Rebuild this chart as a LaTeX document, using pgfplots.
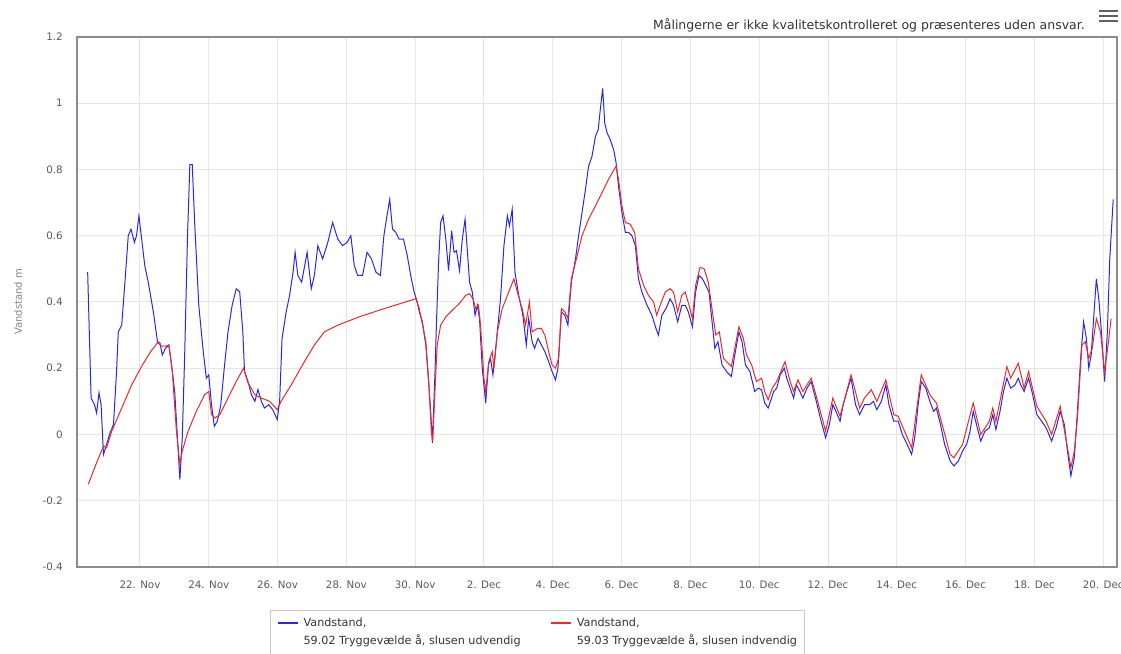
\documentclass[border=0pt]{standalone}
\usepackage{pgfplots}
\pgfplotsset{compat=1.18}
\usepackage{fontspec}
\setmainfont{DejaVu Sans}
\definecolor{blueline}{RGB}{40,40,235}
\definecolor{redline}{RGB}{240,40,40}
\definecolor{gridc}{RGB}{230,230,230}
\definecolor{borderc}{RGB}{140,140,140}
\definecolor{labc}{RGB}{90,90,90}
\definecolor{ylabc}{RGB}{130,130,130}
\definecolor{textc}{RGB}{51,51,51}
\definecolor{legc}{RGB}{200,200,200}
\begin{document}
\begin{tikzpicture}[x=1pt,y=1pt]
\path[use as bounding box] (-77,-86) rectangle (1044,567);
\begin{axis}[
  at={(0,0)}, anchor=south west,
  scale only axis, width=1040pt, height=530pt,
  xmin=20.17, xmax=50.4, ymin=-0.4, ymax=1.2,
  xtick={22,24,26,28,30,32,34,36,38,40,42,44,46,48,50},
  xticklabels={22. Nov,24. Nov,26. Nov,28. Nov,30. Nov,2. Dec,4. Dec,6. Dec,8. Dec,10. Dec,12. Dec,14. Dec,16. Dec,18. Dec,20. Dec},
  ytick={-0.4,-0.2,0,0.2,0.4,0.6,0.8,1,1.2},
  yticklabels={-0.4,-0.2,0,0.2,0.4,0.6,0.8,1,1.2},
  major tick length=0pt,
  grid=major,
  major grid style={gridc, line width=1pt},
  axis line style={borderc, line width=1.8pt},
  tick label style={font=\fontsize{10.3}{12}\selectfont, text=labc},
  xticklabel style={anchor=north, inner sep=0pt, yshift=-14pt},
  yticklabel style={anchor=east, inner sep=0pt, xshift=-14pt},
  ylabel={Vandstand m},
  ylabel style={at={(axis description cs:-0.0567,0.5)}, anchor=center, font=\fontsize{10}{12}\selectfont, text=ylabc},
  legend columns=2,
  legend cell align=left,
  legend style={at={(axis description cs:0.1856,-0.0811)}, anchor=north west,
    draw=legc, line width=0.8pt, font=\fontsize{11.2}{18}\selectfont,
    nodes={inner sep=0pt, text depth=},
    cells={anchor=base west},
    /tikz/every odd column/.append style={column sep=5pt},
    /tikz/every even column/.append style={column sep=30pt},
    inner xsep=7pt, inner ysep=4pt},
]
\addplot[blueline, line width=1pt, legend image code/.code={\path (0pt,0pt); \draw[blueline, line width=1.2pt] (0pt,4pt) -- (20pt,4pt);}] coordinates {
(20.48,0.49) (20.58,0.11) (20.68,0.09) (20.74,0.065) (20.81,0.126) (20.87,0.09) (20.94,-0.06) (21.0,-0.04) (21.13,0.005) (21.23,0.03) (21.32,0.19) (21.37,0.31) (21.47,0.33) (21.57,0.47) (21.66,0.60) (21.74,0.62) (21.84,0.58) (21.9,0.60) (21.97,0.66) (22.05,0.59) (22.14,0.51) (22.24,0.46) (22.39,0.37) (22.51,0.28) (22.58,0.277) (22.65,0.24) (22.74,0.26) (22.84,0.27) (22.92,0.21) (23.01,0.13) (23.09,-0.01) (23.16,-0.136) (23.23,-0.01) (23.3,0.24) (23.38,0.59) (23.45,0.815) (23.52,0.815) (23.59,0.64) (23.71,0.39) (23.84,0.25) (23.93,0.17) (24.0,0.18) (24.08,0.09) (24.16,0.025) (24.25,0.04) (24.35,0.09) (24.45,0.20) (24.56,0.31) (24.68,0.39) (24.8,0.44) (24.9,0.43) (24.99,0.31) (25.04,0.19) (25.14,0.16) (25.24,0.12) (25.34,0.10) (25.43,0.136) (25.53,0.10) (25.62,0.08) (25.74,0.09) (25.86,0.075) (25.99,0.045) (26.06,0.10) (26.13,0.29) (26.25,0.37) (26.35,0.42) (26.45,0.49) (26.51,0.55) (26.59,0.48) (26.7,0.46) (26.86,0.55) (26.98,0.44) (27.07,0.48) (27.17,0.57) (27.31,0.53) (27.46,0.58) (27.6,0.64) (27.75,0.59) (27.89,0.57) (28.02,0.58) (28.13,0.60) (28.23,0.51) (28.33,0.48) (28.47,0.48) (28.6,0.55) (28.73,0.53) (28.86,0.49) (28.99,0.48) (29.09,0.60) (29.18,0.66) (29.26,0.71) (29.34,0.62) (29.44,0.61) (29.53,0.59) (29.66,0.59) (29.77,0.54) (29.87,0.48) (29.97,0.43) (30.06,0.40)
(30.12,0.37) (30.21,0.34) (30.31,0.27) (30.39,0.16) (30.45,0.07) (30.5,-0.025) (30.57,0.17) (30.62,0.34) (30.68,0.52) (30.74,0.64) (30.81,0.66) (30.89,0.59) (30.97,0.495) (31.06,0.615) (31.13,0.55) (31.2,0.555) (31.29,0.495) (31.37,0.59) (31.45,0.65) (31.52,0.55) (31.58,0.46) (31.66,0.43) (31.74,0.36) (31.81,0.39) (31.87,0.35) (31.95,0.20) (32.05,0.095) (32.13,0.21) (32.19,0.23) (32.26,0.18) (32.36,0.28) (32.48,0.41) (32.58,0.57) (32.68,0.66) (32.74,0.63) (32.82,0.68) (32.9,0.49) (33.01,0.42) (33.13,0.36) (33.23,0.27) (33.3,0.35) (33.4,0.28) (33.47,0.26) (33.57,0.29) (33.67,0.27) (33.77,0.25) (33.88,0.22) (33.98,0.19) (34.08,0.165) (34.15,0.20) (34.25,0.37) (34.35,0.36) (34.44,0.33) (34.54,0.46) (34.66,0.53) (34.75,0.60) (34.85,0.67) (34.95,0.74) (35.04,0.81) (35.14,0.84) (35.24,0.90) (35.32,0.92) (35.38,0.98) (35.45,1.045) (35.51,0.94) (35.58,0.91) (35.67,0.89) (35.77,0.86) (35.84,0.82) (35.91,0.75) (36.01,0.67) (36.11,0.61) (36.2,0.61) (36.3,0.60) (36.4,0.57) (36.49,0.47) (36.59,0.43) (36.74,0.39) (36.88,0.36) (37.0,0.32) (37.07,0.30) (37.17,0.36) (37.29,0.38) (37.41,0.41) (37.51,0.39) (37.63,0.34) (37.75,0.39) (37.85,0.39) (37.94,0.37) (38.06,0.325) (38.15,0.43) (38.25,0.48) (38.35,0.47) (38.45,0.45) (38.54,0.43) (38.62,0.35) (38.71,0.26) (38.8,0.28) (38.92,0.21) (39.05,0.19) (39.19,0.175) (39.29,0.24) (39.41,0.31) (39.5,0.28) (39.6,0.21) (39.73,0.19) (39.87,0.13) (39.97,0.14) (40.07,0.135) (40.16,0.095) (40.26,0.08)
(40.36,0.11) (40.42,0.13) (40.51,0.14) (40.61,0.18) (40.73,0.20) (40.8,0.17) (40.9,0.14) (41.0,0.11) (41.08,0.15) (41.18,0.13) (41.27,0.11) (41.39,0.14) (41.51,0.16) (41.66,0.10) (41.8,0.04) (41.93,-0.01) (42.04,0.03) (42.14,0.09) (42.23,0.07) (42.35,0.04) (42.44,0.09) (42.55,0.13) (42.67,0.17) (42.8,0.09) (42.92,0.06) (43.06,0.09) (43.21,0.09) (43.32,0.10) (43.42,0.075) (43.55,0.10) (43.68,0.15) (43.77,0.09) (43.91,0.04) (44.04,0.04) (44.16,0.00) (44.3,-0.03) (44.43,-0.06) (44.52,-0.01) (44.62,0.09) (44.71,0.16) (44.84,0.14) (44.96,0.10) (45.07,0.07) (45.15,0.08) (45.27,0.03) (45.39,-0.03) (45.55,-0.08) (45.66,-0.095) (45.79,-0.08) (45.91,-0.05) (46.03,-0.03) (46.13,0.01) (46.22,0.07) (46.34,0.02) (46.44,-0.02) (46.56,0.01) (46.69,0.02) (46.79,0.06) (46.88,0.015) (47.0,0.07) (47.1,0.13) (47.2,0.17) (47.31,0.14) (47.44,0.15) (47.53,0.17) (47.6,0.15) (47.7,0.13) (47.83,0.17) (47.95,0.12) (48.07,0.06) (48.21,0.04) (48.34,0.02) (48.5,-0.02) (48.63,0.02) (48.75,0.07) (48.87,0.03) (48.96,-0.05) (49.06,-0.125) (49.16,-0.07) (49.25,0.07) (49.35,0.24) (49.43,0.34) (49.51,0.29) (49.58,0.20) (49.65,0.24) (49.74,0.38) (49.8,0.47) (49.87,0.41) (49.94,0.32) (50.04,0.16) (50.12,0.31) (50.19,0.53) (50.29,0.71)
};
\addlegendentry{\begin{tabular}[t]{@{}l@{}}\color{textc}Vandstand,\\\color{textc}59.02 Tryggevælde å, slusen udvendig\end{tabular}}
\addplot[redline, line width=1pt, legend image code/.code={\path (0pt,0pt); \draw[redline, line width=1.2pt] (0pt,4pt) -- (20pt,4pt);}] coordinates {
(20.5,-0.15) (20.74,-0.085) (20.94,-0.035) (21.03,-0.04) (21.18,0.01) (21.47,0.08) (21.76,0.15) (22.05,0.206) (22.29,0.247) (22.51,0.277) (22.63,0.267) (22.74,0.267) (22.84,0.27) (22.94,0.19) (23.06,0.01) (23.16,-0.09) (23.23,-0.05) (23.4,0.01) (23.64,0.07) (23.88,0.12) (24.0,0.13) (24.08,0.06) (24.19,0.05) (24.32,0.06) (24.56,0.11) (24.8,0.16) (25.01,0.20) (25.14,0.156) (25.34,0.12) (25.53,0.11) (25.77,0.10) (25.99,0.075) (26.1,0.10) (26.4,0.15) (26.78,0.22) (27.07,0.27) (27.36,0.31) (27.75,0.33) (28.42,0.357) (29.1,0.38) (30.02,0.41) (30.12,0.38) (30.31,0.28) (30.4,0.15) (30.47,0.01) (30.51,-0.02) (30.57,0.12) (30.64,0.27) (30.74,0.33) (30.89,0.355) (31.08,0.375) (31.28,0.395) (31.47,0.42) (31.58,0.425) (31.68,0.41) (31.76,0.38) (31.84,0.39) (31.9,0.33) (32.0,0.17) (32.05,0.13) (32.14,0.22) (32.24,0.25) (32.29,0.20) (32.39,0.31) (32.53,0.38) (32.72,0.43) (32.87,0.47) (32.97,0.43) (33.11,0.38) (33.21,0.33) (33.32,0.40) (33.4,0.31) (33.55,0.32) (33.67,0.32) (33.77,0.30) (33.88,0.25) (33.98,0.21) (34.08,0.20) (34.17,0.23) (34.25,0.38) (34.35,0.37) (34.44,0.35) (34.54,0.47) (34.71,0.54) (34.85,0.60) (35.04,0.65) (35.24,0.69) (35.43,0.73) (35.62,0.77) (35.84,0.81) (35.91,0.77) (36.01,0.69) (36.11,0.64) (36.25,0.635) (36.38,0.61) (36.49,0.50) (36.64,0.45) (36.78,0.42) (36.93,0.40) (37.02,0.36) (37.12,0.39) (37.27,0.43) (37.41,0.44) (37.51,0.43) (37.63,0.37) (37.75,0.42) (37.85,0.43) (37.96,0.39) (38.06,0.35) (38.15,0.45) (38.28,0.505) (38.4,0.50) (38.52,0.46) (38.64,0.37) (38.74,0.30) (38.84,0.31) (38.96,0.23) (39.19,0.205) (39.31,0.27) (39.41,0.325) (39.54,0.29) (39.63,0.24) (39.78,0.21) (39.92,0.16) (40.07,0.17) (40.16,0.13) (40.26,0.105) (40.38,0.14) (40.51,0.16) (40.75,0.22) (40.9,0.16) (41.0,0.13) (41.13,0.165) (41.27,0.13) (41.51,0.17) (41.66,0.115) (41.93,0.01) (42.14,0.11) (42.35,0.055) (42.67,0.18) (42.92,0.08) (43.06,0.11) (43.26,0.135) (43.42,0.10) (43.68,0.165) (43.91,0.06) (44.04,0.055) (44.43,-0.04) (44.71,0.18) (44.96,0.12) (45.15,0.095) (45.55,-0.06) (45.66,-0.07) (45.91,-0.03) (46.22,0.095) (46.44,0.00) (46.69,0.04) (46.79,0.08) (46.88,0.04) (47.2,0.205) (47.31,0.17) (47.53,0.215) (47.7,0.14) (47.83,0.19) (48.07,0.085) (48.34,0.04) (48.5,0.00) (48.75,0.085) (48.96,-0.04) (49.06,-0.10) (49.16,-0.05) (49.25,0.05) (49.38,0.27) (49.48,0.28) (49.58,0.23) (49.68,0.26) (49.8,0.35) (49.92,0.31) (50.04,0.19) (50.14,0.27) (50.23,0.35)
};
\addlegendentry{\begin{tabular}[t]{@{}l@{}}\color{textc}Vandstand,\\\color{textc}59.03 Tryggevælde å, slusen indvendig\end{tabular}}
\end{axis}
\node[anchor=base east, inner sep=0pt, font=\fontsize{12.5}{14}\selectfont, text=textc] at (1008,537) {Målingerne er ikke kvalitetskontrolleret og præsenteres uden ansvar.};
\draw[line width=2.2pt, gray!75!black] (1022,556) -- (1041,556) (1022,551) -- (1041,551) (1022,546) -- (1041,546);
\end{tikzpicture}
\end{document}
